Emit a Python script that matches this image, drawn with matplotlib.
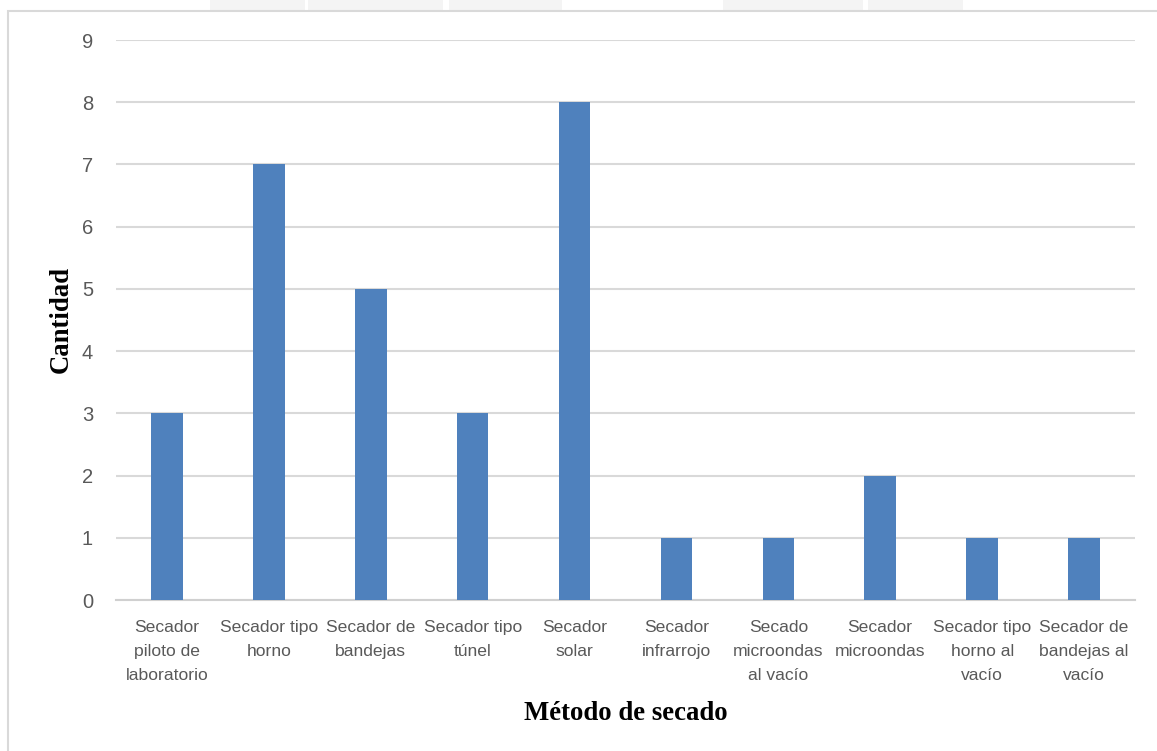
import matplotlib
matplotlib.use("Agg")
import matplotlib.pyplot as plt
from matplotlib.patches import Rectangle

categorias = [
    "Secador\npiloto de\nlaboratorio",
    "Secador tipo\nhorno",
    "Secador de\nbandejas",
    "Secador tipo\ntúnel",
    "Secador\nsolar",
    "Secador\ninfrarrojo",
    "Secado\nmicroondas\nal vacío",
    "Secador\nmicroondas",
    "Secador tipo\nhorno al\nvacío",
    "Secador de\nbandejas al\nvacío",
]
cantidad = [3, 7, 5, 3, 8, 1, 1, 2, 1, 1]
y_ticks = list(range(0, 10))

W, H = 1157, 751
fig = plt.figure(figsize=(W / 100, H / 100), dpi=100)
fig.patch.set_facecolor("white")

# faint background shapes peeking above the chart frame
for x0, x1 in [(210, 305), (308, 443), (449, 562), (723, 863), (868, 963)]:
    fig.add_artist(Rectangle((x0 / W, 1 - 10 / H), (x1 - x0) / W, 10 / H,
                             transform=fig.transFigure, facecolor="#f4f4f4",
                             edgecolor="none", zorder=0))

# outer frame of the chart area
fig.add_artist(Rectangle((8 / W, -0.05), 1.2, 1 - 11 / H + 0.05,
                         transform=fig.transFigure, facecolor="white",
                         edgecolor="#d9d9d9", linewidth=1.5, zorder=1))

ax = fig.add_axes([116 / W, 1 - 600 / H, (1135 - 116) / W, (600 - 40) / H], zorder=2)
ax.patch.set_alpha(0)
x = list(range(len(categorias)))
ax.bar(x, cantidad, width=0.31, color="#4f81bd", zorder=3)

ax.set_xlim(-0.5, len(categorias) - 0.5)
ax.set_ylim(0, 9)
ax.set_yticks(y_ticks)
ax.set_yticklabels([str(v) for v in y_ticks], fontfamily="Liberation Sans", fontsize=14.5,
                   color="#595959")
ax.set_xticks(x)
ax.set_xticklabels(categorias, fontfamily="Liberation Sans", fontsize=12.6, color="#595959",
                   linespacing=1.75)

ax.grid(axis="y", color="#d9d9d9", linewidth=1.5, zorder=0)
for s in ["top", "right", "left"]:
    ax.spines[s].set_visible(False)
ax.spines["bottom"].set_color("#d0d0d0")
ax.spines["bottom"].set_linewidth(1.5)
ax.tick_params(axis="both", length=0)
ax.tick_params(axis="y", pad=16.5)
ax.tick_params(axis="x", pad=14.5)

ax.set_ylabel("Cantidad", fontfamily="Liberation Serif", fontweight="bold", fontsize=19.3,
              color="black", labelpad=5.5)
ax.set_xlabel("Método de secado", fontfamily="Liberation Serif", fontweight="bold",
              fontsize=19.3, color="black", labelpad=13)

fig.savefig("out.png", dpi=100, facecolor="white")
